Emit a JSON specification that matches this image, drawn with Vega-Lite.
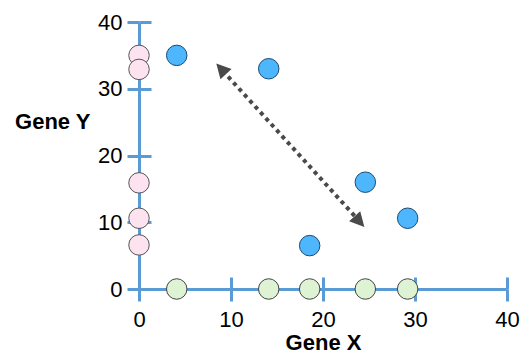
{
  "$schema": "https://vega.github.io/schema/vega-lite/v6.json",
  "width": 368,
  "height": 267,
  "autosize": {"type": "none"},
  "padding": {"left": 139, "top": 22, "right": 25, "bottom": 69},
  "background": "white",
  "config": {
    "view": {"stroke": null},
    "font": "Liberation Sans",
    "axis": {
      "grid": false,
      "domainColor": "#5b9bd5",
      "domainWidth": 3,
      "tickColor": "#5b9bd5",
      "tickWidth": 3,
      "tickSize": 12,
      "labelFlush": false,
      "labelOverlap": false,
      "labelFont": "Liberation Sans",
      "labelFontSize": 22,
      "labelColor": "black",
      "titleFont": "Liberation Sans",
      "titleFontSize": 22,
      "titleFontWeight": "bold",
      "titleColor": "black"
    }
  },
  "datasets": {
    "pts": [
      {"gx": 0, "gy": 35, "group": "y only"},
      {"gx": 0, "gy": 32.9, "group": "y only"},
      {"gx": 0, "gy": 15.9, "group": "y only"},
      {"gx": 0, "gy": 10.6, "group": "y only"},
      {"gx": 0, "gy": 6.6, "group": "y only"},
      {"gx": 4.1, "gy": 0, "group": "x only"},
      {"gx": 14.1, "gy": 0, "group": "x only"},
      {"gx": 18.55, "gy": 0, "group": "x only"},
      {"gx": 24.6, "gy": 0, "group": "x only"},
      {"gx": 29.2, "gy": 0, "group": "x only"},
      {"gx": 4.1, "gy": 35, "group": "both"},
      {"gx": 14.1, "gy": 33, "group": "both"},
      {"gx": 18.55, "gy": 6.5, "group": "both"},
      {"gx": 24.6, "gy": 16, "group": "both"},
      {"gx": 29.2, "gy": 10.6, "group": "both"}
    ],
    "arrowLine": [
      {"gx": 9.1, "gy": 32.7},
      {"gx": 23.8, "gy": 10.4}
    ],
    "arrowHeads": [
      {"gx": 8.4, "gy": 33.8, "end": "head"},
      {"gx": 24.5, "gy": 9.3, "end": "tail"}
    ]
  },
  "resolve": {"axis": {"x": "independent", "y": "independent"}},
  "layer": [
    {
      "data": {"name": "pts"},
      "mark": {"type": "point", "filled": true, "opacity": 1, "strokeWidth": 1, "shape": "circle", "size": 420},
      "encoding": {
        "x": {
          "field": "gx", "type": "quantitative",
          "scale": {"domain": [0, 40], "nice": false, "zero": false},
          "axis": {
            "orient": "bottom", "values": [0, 10, 20, 30, 40],
            "title": "Gene X", "labelBaseline": "alphabetic", "labelPadding": 25,
            "titleY": 60, "titleBaseline": "alphabetic"
          }
        },
        "y": {
          "field": "gy", "type": "quantitative",
          "scale": {"domain": [0, 40], "nice": false, "zero": false},
          "axis": {
            "orient": "left", "values": [0, 10, 20, 30, 40],
            "title": "Gene Y", "labelPadding": 5, "labelBaseline": "middle",
            "titleAngle": 0, "titleAlign": "right", "titleBaseline": "alphabetic",
            "titleX": -49, "titleY": 106
          }
        },
        "fill": {
          "field": "group", "type": "nominal",
          "scale": {"domain": ["y only", "x only", "both"], "range": ["#fde3f0", "#ddf3d3", "#4db6fd"]},
          "legend": null
        },
        "stroke": {
          "field": "group", "type": "nominal",
          "scale": {"domain": ["y only", "x only", "both"], "range": ["#555555", "#444444", "#1d4a72"]},
          "legend": null
        }
      }
    },
    {
      "data": {"name": "arrowLine"},
      "mark": {"type": "line", "color": "#4a4a4a", "strokeWidth": 4, "strokeDash": [4, 4], "strokeCap": "butt"},
      "encoding": {
        "x": {
          "field": "gx", "type": "quantitative",
          "axis": {"orient": "top", "offset": -267, "values": [0, 10, 20, 30, 40], "labels": false, "domain": false, "title": null}
        },
        "y": {
          "field": "gy", "type": "quantitative",
          "axis": {"orient": "right", "offset": -368, "values": [0, 10, 20, 30, 40], "labels": false, "domain": false, "title": null}
        }
      }
    },
    {
      "data": {"name": "arrowHeads"},
      "mark": {"type": "point", "filled": true, "opacity": 1, "color": "#4a4a4a", "shape": "M0,0L0.75,1.45L-0.75,1.45Z", "size": 400},
      "encoding": {
        "x": {"field": "gx", "type": "quantitative", "axis": null},
        "y": {"field": "gy", "type": "quantitative", "axis": null},
        "angle": {
          "field": "end", "type": "nominal",
          "scale": {"domain": ["head", "tail"], "range": [317.8, 137.8]},
          "legend": null
        }
      }
    }
  ]
}
